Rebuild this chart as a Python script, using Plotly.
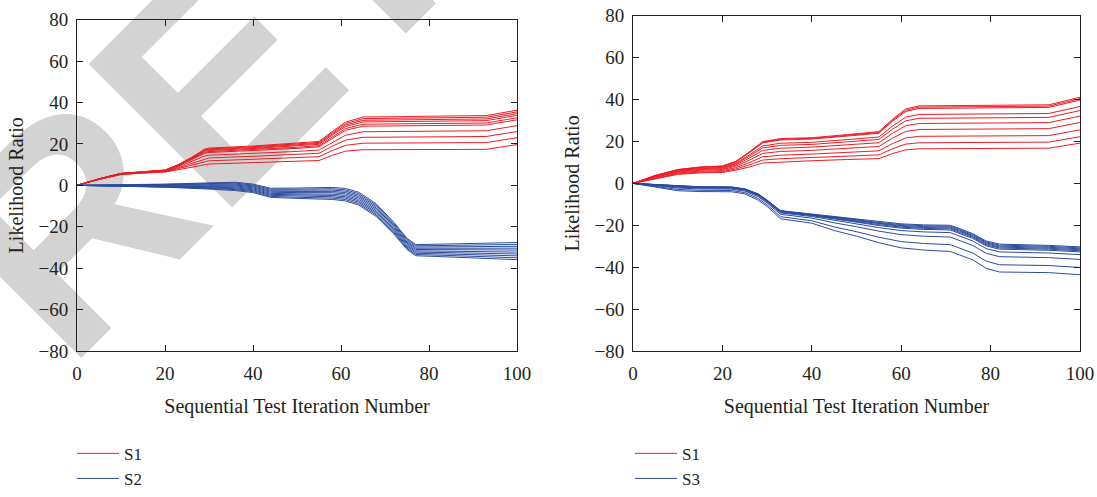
import plotly.graph_objects as go

# ---------------- data ----------------
ITER_TICKS = [0, 20, 40, 60, 80, 100]
LR_TICKS = [-80, -60, -40, -20, 0, 20, 40, 60, 80]

# Left panel: S1 (red) vs S2 (blue)
X_L_S1 = [0, 5, 10, 15, 20, 23, 26, 29, 30, 40, 50, 55, 58, 61, 65, 93, 100]
L_S1 = [
    [0, 3.2, 5.8, 6.6, 7.4, 10.0, 13.5, 17.5, 18.0, 19.0, 20.3, 21.2, 26.0, 30.5, 33.0, 33.7, 36.3],
    [0, 3.18, 5.77, 6.57, 7.35, 9.88, 13.27, 17.13, 17.62, 18.6, 19.87, 20.74, 25.43, 29.8, 32.21, 32.89, 35.47],
    [0, 3.16, 5.74, 6.54, 7.3, 9.76, 13.03, 16.75, 17.23, 18.2, 19.43, 20.28, 24.85, 29.1, 31.42, 32.07, 34.64],
    [0, 3.14, 5.71, 6.51, 7.25, 9.64, 12.8, 16.38, 16.85, 17.8, 19.0, 19.82, 24.28, 28.4, 30.63, 31.26, 33.81],
    [0, 3.11, 5.67, 6.47, 7.18, 9.47, 12.47, 15.85, 16.31, 17.24, 18.39, 19.18, 23.47, 27.42, 29.52, 30.11, 32.65],
    [0, 3.09, 5.63, 6.43, 7.12, 9.33, 12.18, 15.4, 15.84, 16.76, 17.86, 18.62, 22.78, 26.58, 28.58, 29.14, 31.65],
    [0, 3.02, 5.53, 6.33, 6.95, 8.92, 11.39, 14.13, 14.54, 15.4, 16.39, 17.06, 20.83, 24.2, 25.89, 26.37, 28.83],
    [0, 2.95, 5.43, 6.23, 6.78, 8.51, 10.59, 12.85, 13.23, 14.04, 14.91, 15.5, 18.87, 21.82, 23.2, 23.59, 26.01],
    [0, 2.88, 5.32, 6.12, 6.6, 8.08, 9.74, 11.5, 11.84, 12.6, 13.34, 13.84, 16.8, 19.3, 20.36, 20.66, 23.02],
    [0, 2.8, 5.2, 6.0, 6.4, 7.6, 8.8, 10.0, 10.3, 11.0, 11.6, 12.0, 14.5, 16.5, 17.2, 17.4, 19.7],
]
X_L_S2 = [0, 10, 20, 30, 36, 40, 44, 50, 58, 61, 64, 68, 72, 75, 77, 85, 100]
L_S2 = [
    [0, 0.2, 0.6, 1.2, 1.5, 0.6, -1.4, -1.3, -1.0, -1.5, -3.3, -8.9, -17.8, -25.6, -28.6, -28.3, -27.6],
    [0, 0.13, 0.44, 0.87, 1.06, 0.15, -1.88, -1.85, -1.64, -2.16, -3.98, -9.57, -18.43, -26.19, -29.19, -28.99, -28.51],
    [0, 0.07, 0.27, 0.54, 0.62, -0.3, -2.37, -2.4, -2.28, -2.82, -4.66, -10.24, -19.05, -26.79, -29.79, -29.69, -29.43],
    [0, 0.0, 0.11, 0.21, 0.18, -0.75, -2.85, -2.95, -2.91, -3.48, -5.35, -10.91, -19.68, -27.38, -30.38, -30.38, -30.34],
    [0, -0.06, -0.06, -0.12, -0.26, -1.2, -3.34, -3.5, -3.55, -4.14, -6.03, -11.58, -20.31, -27.98, -30.98, -31.07, -31.25],
    [0, -0.14, -0.24, -0.48, -0.74, -1.7, -3.86, -4.1, -4.25, -4.86, -6.77, -12.32, -20.99, -28.62, -31.62, -31.83, -32.25],
    [0, -0.2, -0.41, -0.81, -1.18, -2.15, -4.35, -4.65, -4.89, -5.52, -7.45, -12.99, -21.62, -29.22, -32.22, -32.52, -33.16],
    [0, -0.27, -0.57, -1.14, -1.62, -2.6, -4.83, -5.2, -5.52, -6.18, -8.14, -13.66, -22.25, -29.81, -32.81, -33.21, -34.07],
    [0, -0.33, -0.74, -1.47, -2.06, -3.05, -5.32, -5.75, -6.16, -6.84, -8.82, -14.33, -22.87, -30.41, -33.41, -33.91, -34.99],
    [0, -0.4, -0.9, -1.8, -2.5, -3.5, -5.8, -6.3, -6.8, -7.5, -9.5, -15.0, -23.5, -31.0, -34.0, -34.6, -35.9],
]

# Right panel: S1 (red) vs S3 (blue)
X_R_S1 = [0, 5, 10, 15, 20, 23, 26, 29, 33, 40, 48, 55, 58, 61, 64, 93, 100]
R_S1 = [
    [0, 3.8, 6.6, 7.8, 8.3, 10.5, 15.0, 19.9, 21.4, 21.8, 23.3, 24.7, 30.5, 35.5, 37.0, 37.5, 41.1],
    [0, 3.75, 6.53, 7.72, 8.21, 10.37, 14.78, 19.59, 21.06, 21.47, 22.94, 24.31, 30.01, 34.92, 36.39, 36.88, 40.44],
    [0, 3.7, 6.46, 7.63, 8.11, 10.25, 14.57, 19.29, 20.73, 21.14, 22.59, 23.93, 29.52, 34.33, 35.77, 36.26, 39.79],
    [0, 3.48, 6.14, 7.24, 7.68, 9.66, 13.56, 17.86, 19.16, 19.6, 20.92, 22.12, 27.24, 31.6, 32.9, 33.36, 36.72],
    [0, 3.34, 5.93, 6.99, 7.4, 9.28, 12.91, 16.94, 18.15, 18.61, 19.85, 20.96, 25.77, 29.85, 31.06, 31.5, 34.75],
    [0, 3.14, 5.66, 6.65, 7.03, 8.78, 12.05, 15.72, 16.81, 17.29, 18.42, 19.41, 23.82, 27.51, 28.6, 29.01, 32.12],
    [0, 2.92, 5.34, 6.26, 6.6, 8.19, 11.04, 14.29, 15.24, 15.75, 16.76, 17.6, 21.54, 24.78, 25.73, 26.12, 29.06],
    [0, 2.66, 4.97, 5.81, 6.1, 7.52, 9.89, 12.66, 13.45, 13.99, 14.85, 15.54, 18.93, 21.66, 22.46, 22.8, 25.55],
    [0, 2.42, 4.62, 5.39, 5.63, 6.89, 8.81, 11.13, 11.77, 12.34, 13.07, 13.61, 16.48, 18.73, 19.37, 19.7, 22.27],
    [0, 2.2, 4.3, 5.0, 5.2, 6.3, 7.8, 9.7, 10.2, 10.8, 11.4, 11.8, 14.2, 16.0, 16.5, 16.8, 19.2],
]
X_R_S3 = [0, 5, 10, 15, 22, 25, 28, 30, 33, 40, 45, 50, 55, 60, 65, 71, 73, 76, 79, 82, 93, 100]
R_S3 = [
    [0, -0.6, -1.2, -1.6, -1.7, -2.6, -5.0, -8.0, -13.0, -14.6, -15.8, -17.0, -18.3, -19.3, -19.8, -20.0, -21.5, -24.0, -27.5, -29.0, -29.6, -30.3],
    [0, -0.64, -1.28, -1.68, -1.78, -2.68, -5.11, -8.11, -13.14, -14.75, -16.03, -17.29, -18.65, -19.7, -20.22, -20.44, -21.94, -24.44, -27.96, -29.47, -30.06, -30.77],
    [0, -0.68, -1.36, -1.76, -1.86, -2.77, -5.21, -8.21, -13.27, -14.91, -16.27, -17.57, -19.0, -20.11, -20.64, -20.88, -22.38, -24.88, -28.41, -29.93, -30.51, -31.23],
    [0, -0.73, -1.44, -1.84, -1.94, -2.85, -5.32, -8.32, -13.41, -15.06, -16.5, -17.86, -19.35, -20.51, -21.06, -21.31, -22.81, -25.31, -28.87, -30.4, -30.97, -31.7],
    [0, -0.77, -1.52, -1.92, -2.02, -2.94, -5.42, -8.42, -13.55, -15.22, -16.74, -18.15, -19.7, -20.91, -21.48, -21.75, -23.25, -25.75, -29.32, -30.86, -31.42, -32.16],
    [0, -0.82, -1.61, -2.01, -2.11, -3.03, -5.54, -8.54, -13.7, -15.39, -17.01, -18.48, -20.1, -21.37, -21.96, -22.25, -23.75, -26.25, -29.84, -31.39, -31.94, -32.69],
    [0, -0.94, -1.84, -2.24, -2.34, -3.27, -5.84, -8.84, -14.09, -15.83, -17.68, -19.3, -21.1, -22.52, -23.16, -23.5, -25.0, -27.5, -31.14, -32.72, -33.24, -34.02],
    [0, -1.14, -2.24, -2.64, -2.74, -3.68, -6.35, -9.35, -14.76, -16.58, -18.82, -20.69, -22.8, -24.48, -25.2, -25.63, -27.13, -29.63, -33.35, -34.99, -35.45, -36.29],
    [0, -1.49, -2.9, -3.3, -3.4, -4.38, -7.22, -10.22, -15.89, -17.86, -20.76, -23.07, -25.7, -27.81, -28.68, -29.25, -30.75, -33.25, -37.12, -38.84, -39.22, -40.14],
    [0, -1.8, -3.5, -3.9, -4.0, -5.0, -8.0, -11.0, -16.9, -19.0, -22.5, -25.2, -28.3, -30.8, -31.8, -32.5, -34.0, -36.5, -40.5, -42.3, -42.6, -43.6],
]

X_TITLE = "Sequential Test Iteration Number"
Y_TITLE = "Likelihood Ratio"
WATERMARK = "RETRACTED"

# ---------------- styling ----------------
W, H = 1097, 497
SERIF = "Liberation Serif"
RED = "#ED1C24"
BLUE = "#2C4C9F"
INK = "#231F20"

fig = go.Figure()


def add_group(xs, rows, color, name, xa, ya, legend):
    for i, ys in enumerate(rows):
        fig.add_trace(go.Scatter(
            x=xs, y=ys, mode="lines", name=name,
            line=dict(color=color, width=1),
            legendgroup=legend + name, showlegend=(i == 0),
            legend=legend, xaxis=xa, yaxis=ya,
        ))


add_group(X_L_S1, L_S1, RED, "S1", "x", "y", "legend")
add_group(X_L_S2, L_S2, BLUE, "S2", "x", "y", "legend")
add_group(X_R_S1, R_S1, RED, "S1", "x2", "y2", "legend2")
add_group(X_R_S3, R_S3, BLUE, "S3", "x2", "y2", "legend2")

axis_common = dict(
    showline=True, linecolor=INK, linewidth=1, mirror="ticks",
    ticks="inside", ticklen=6, tickwidth=1, tickcolor=INK,
    showgrid=False, zeroline=False,
    tickfont=dict(family=SERIF, size=19, color=INK),
    automargin=False,
)
xaxis_common = dict(axis_common, range=[0, 100], tickvals=ITER_TICKS, ticklabelstandoff=5,
                    title=dict(text=X_TITLE, font=dict(family=SERIF, size=20, color=INK), standoff=16))
yaxis_common = dict(axis_common, range=[-80, 80], tickvals=LR_TICKS, ticklabelstandoff=4,
                    title=dict(text=Y_TITLE, font=dict(family=SERIF, size=20, color=INK), standoff=9))

legend_common = dict(
    font=dict(family=SERIF, size=17, color=INK), bgcolor="rgba(0,0,0,0)",
    orientation="v", xanchor="left", yanchor="top", tracegroupgap=0,
    itemwidth=42, borderwidth=0,
)

fig.update_layout(
    width=W, height=H, autosize=False,
    margin=dict(l=0, r=0, t=0, b=0),
    paper_bgcolor="white", plot_bgcolor="rgba(0,0,0,0)",
    xaxis=dict(xaxis_common, domain=[77 / W, 517 / W], anchor="y"),
    yaxis=dict(yaxis_common, domain=[(H - 356) / H, (H - 20) / H], anchor="x"),
    xaxis2=dict(xaxis_common, domain=[633 / W, 1080 / W], anchor="y2"),
    yaxis2=dict(yaxis_common, domain=[(H - 356) / H, (H - 16) / H], anchor="x2"),
    legend=dict(legend_common, x=72 / W, y=(H - 442) / H),
    legend2=dict(legend_common, x=630 / W, y=(H - 442) / H),
    showlegend=True,
)

# grey diagonal watermark, drawn beneath the data
fig.add_shape(
    type="line", xref="paper", yref="paper",
    x0=35.3 / W, y0=(H - 453.1) / H, x1=1435.3 / W, y1=(H + 946.9) / H,
    line=dict(width=0, color="rgba(0,0,0,0)"), layer="below",
    label=dict(text="<b>" + WATERMARK + "</b>", textposition="middle", textangle=-45,
               font=dict(family="Liberation Sans", size=295, color="#D3D3D3", weight="bold")),
)

fig.write_html("out.html", config={"displayModeBar": False},
               post_script="document.body.style.margin='0px';")
